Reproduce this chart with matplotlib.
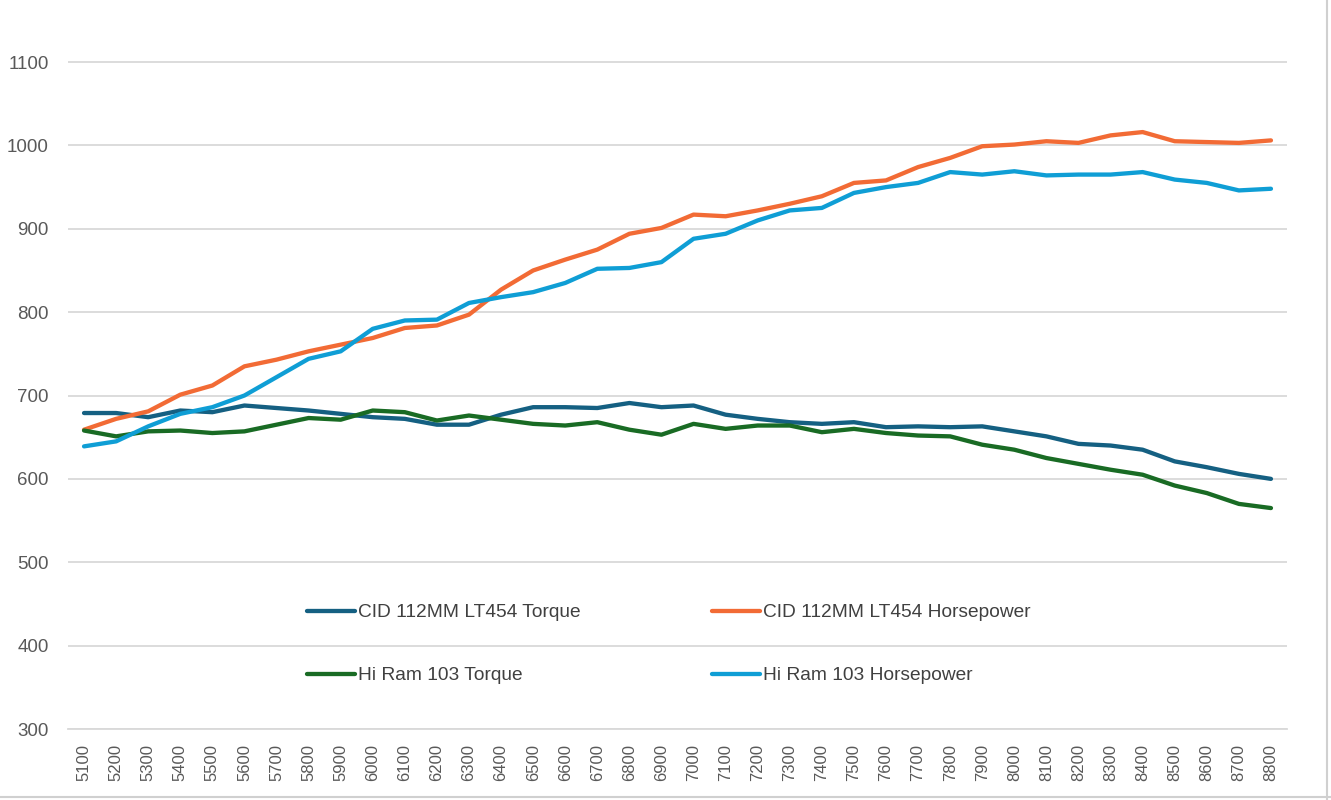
import matplotlib
matplotlib.use("Agg")
import matplotlib.pyplot as plt
from matplotlib.lines import Line2D

rpm = [5100, 5200, 5300, 5400, 5500, 5600, 5700, 5800, 5900, 6000,
       6100, 6200, 6300, 6400, 6500, 6600, 6700, 6800, 6900, 7000,
       7100, 7200, 7300, 7400, 7500, 7600, 7700, 7800, 7900, 8000,
       8100, 8200, 8300, 8400, 8500, 8600, 8700, 8800]

cid_torque = [679, 679, 674, 682, 680, 688, 685, 682, 678, 674,
              672, 665, 665, 677, 686, 686, 685, 691, 686, 688,
              677, 672, 668, 666, 668, 662, 663, 662, 663, 657,
              651, 642, 640, 635, 621, 614, 606, 600]

cid_hp = [659, 672, 681, 701, 712, 735, 743, 753, 761, 769,
          781, 784, 797, 827, 850, 863, 875, 894, 901, 917,
          915, 922, 930, 939, 955, 958, 974, 985, 999, 1001,
          1005, 1003, 1012, 1016, 1005, 1004, 1003, 1006]

hiram_torque = [658, 651, 657, 658, 655, 657, 665, 673, 671, 682,
                680, 670, 676, 671, 666, 664, 668, 659, 653, 666,
                660, 664, 664, 656, 660, 655, 652, 651, 641, 635,
                625, 618, 611, 605, 592, 583, 570, 565]

hiram_hp = [639, 645, 663, 678, 686, 700, 722, 744, 753, 780,
            790, 791, 811, 818, 824, 835, 852, 853, 860, 888,
            894, 910, 922, 925, 943, 950, 955, 968, 965, 969,
            964, 965, 965, 968, 959, 955, 946, 948]

labels = ["CID 112MM LT454 Torque", "CID 112MM LT454 Horsepower",
          "Hi Ram 103 Torque", "Hi Ram 103 Horsepower"]
yticks = [300, 400, 500, 600, 700, 800, 900, 1000, 1100]

colors = ["#156082", "#F26B35", "#196B24", "#0F9ED5"]

W, H = 1331, 800
fig = plt.figure(figsize=(W / 100, H / 100), dpi=100)
ax = fig.add_axes([68 / W, 1 - 729 / H, (1287 - 68) / W, 729 / H])

xs = list(range(len(rpm)))
series = [cid_torque, cid_hp, hiram_torque, hiram_hp]
handles = []
for s, c, lab in zip(series, colors, labels):
    h, = ax.plot(xs, s, color=c, lw=3.1, solid_capstyle="round",
                 solid_joinstyle="round", label=lab, zorder=3)
    handles.append(h)

ax.set_xlim(-0.5, len(rpm) - 0.5)
ax.set_ylim(300, 1174.4)
ax.set_yticks(yticks)
ax.set_yticklabels([str(v) for v in yticks])
ax.set_xticks(xs)
ax.set_xticklabels([str(r) for r in rpm], rotation=90)

ax.grid(axis="y", color="#D9D9D9", lw=1.3, zorder=0)
for sp in ["top", "right", "left"]:
    ax.spines[sp].set_visible(False)
ax.spines["bottom"].set_color("#D9D9D9")
ax.spines["bottom"].set_linewidth(1.3)
ax.tick_params(axis="both", length=0)
ax.tick_params(axis="y", pad=14, labelsize=13.5, labelcolor="#595959")
ax.tick_params(axis="x", pad=11, labelsize=12, labelcolor="#595959")
for t in ax.get_xticklabels() + ax.get_yticklabels():
    t.set_fontfamily(["Liberation Sans", "DejaVu Sans"])

leg_kw = dict(frameon=False, loc="upper left", bbox_transform=fig.transFigure,
              borderpad=0, borderaxespad=0, handlelength=2.5, handletextpad=0.15,
              labelspacing=2.38,
              prop={"family": ["Liberation Sans", "DejaVu Sans"], "size": 13.8})

leg1 = ax.legend([handles[0], handles[2]], [labels[0], labels[2]],
                 bbox_to_anchor=(307 / W, 1 - 604 / H), **leg_kw)
ax.add_artist(leg1)
leg2 = ax.legend([handles[1], handles[3]], [labels[1], labels[3]],
                 bbox_to_anchor=(712 / W, 1 - 604 / H), **leg_kw)
for lg in (leg1, leg2):
    for t in lg.get_texts():
        t.set_color("#404040")

# outer spreadsheet edges
fig.add_artist(Line2D([1327 / W, 1327 / W], [0, 1], transform=fig.transFigure,
                      color="#D0D0D0", lw=1.5))
fig.add_artist(Line2D([0, 1], [3 / H, 3 / H], transform=fig.transFigure,
                      color="#D0D0D0", lw=1.5))

fig.savefig("out.png", dpi=100)
